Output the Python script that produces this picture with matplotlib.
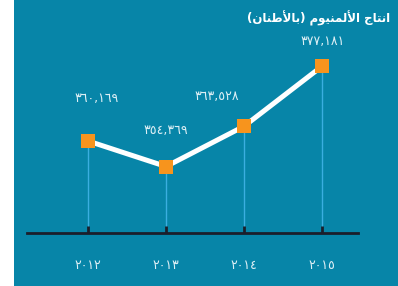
import matplotlib
matplotlib.use("Agg")
import matplotlib.pyplot as plt
from matplotlib.patches import Rectangle

years = [2012, 2013, 2014, 2015]
year_labels = ["٢٠١٢", "٢٠١٣", "٢٠١٤", "٢٠١٥"]
values = [360169, 354369, 363528, 377181]
value_labels = ["٣٦٠,١٦٩", "٣٥٤,٣٦٩", "٣٦٣,٥٢٨", "٣٧٧,١٨١"]
# label offsets in pixels (dx, dy)
label_offsets = [(9, 36), (0, 30), (-27, 23), (0, 18)]

# Title "انتاج الألمنيوم (بالأطنان)" in shaped presentation forms, visual order
title = ("(" + "\uFEE5\uFE8E\uFEE8\uFEC3\uFEF7\uFE8E\uFE91" + ")" + " "
         + "\uFEE1\uFEEE\uFEF4\uFEE8\uFEE4\uFEDF\uFEF7\uFE8D" + " "
         + "\uFE9D\uFE8E\uFE98\uFEE7\uFE8D")

BG = "#0785A8"
W, H = 398, 286
fig = plt.figure(figsize=(W / 100, H / 100), dpi=100)
fig.patch.set_facecolor("white")
fig.patches.append(Rectangle((14 / W, 0), 1, 1, transform=fig.transFigure,
                             facecolor=BG, edgecolor="none", zorder=-10))

ax = fig.add_axes([27 / W, (H - 233) / H, 331 / W, (233 - 20) / H])
ax.set_facecolor("none")
ax.set_xlim(2011.218, 2015.46)
ax.set_ylim(339260, 387669)

for x, v in zip(years, values):
    ax.plot([x, x], [339260, v], color="#3AAEE0", lw=1, zorder=1)
ax.plot(years, values, color="white", lw=3.6, zorder=2, solid_capstyle="butt")
ax.plot(years, values, ls="none", marker="s", ms=10.5, color="#F7941D",
        markeredgewidth=0, zorder=3)

for x, v, lab, (dx, dy) in zip(years, values, value_labels, label_offsets):
    ax.annotate(lab, (x, v), xytext=(dx * 0.72, dy * 0.72), textcoords="offset points",
                ha="center", va="bottom", color="#DDEFF5", fontsize=9,
                family="DejaVu Sans")

for s in ["top", "right", "left"]:
    ax.spines[s].set_visible(False)
ax.spines["bottom"].set_color("#1B1E2B")
ax.spines["bottom"].set_linewidth(2)
ax.set_yticks([])
ax.set_xticks(years)
ax.set_xticklabels(year_labels, color="#DDEFF5", fontsize=9, family="DejaVu Sans")
ax.tick_params(axis="x", direction="in", length=5, width=2, color="#1B1E2B", pad=19)

fig.text(390 / W, (H - 18) / H, title, ha="right", va="center", color="white",
         fontsize=8.5, fontweight="bold", family=["DejaVu Sans"])

fig.savefig("out.png", dpi=100, facecolor=fig.get_facecolor())
